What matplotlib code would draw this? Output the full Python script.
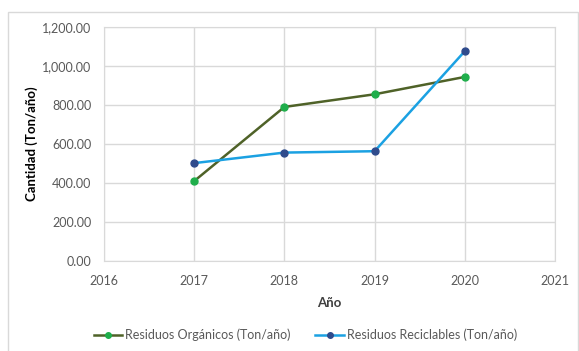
import matplotlib.pyplot as plt
from matplotlib.patches import Rectangle
from matplotlib.ticker import FuncFormatter

years = [2017, 2018, 2019, 2020]
organicos = [410, 790, 855, 944]
reciclables = [502, 556, 563, 1076]

plt.rcParams['font.family'] = ['Lato', 'DejaVu Sans']

fig = plt.figure(figsize=(5.79, 3.51), dpi=100)
fig.patches.append(Rectangle((8 / 579, -0.01), 570 / 579, 1 - 12 / 351 + 0.01,
                             transform=fig.transFigure, fill=False,
                             edgecolor='#d9d9d9', linewidth=1))
ax = fig.add_axes([104 / 579, 1 - 261 / 351, 451 / 579, 234 / 351])

ax.plot(years, organicos, color='#4f6228', linewidth=1.8, marker='o',
        markersize=5, markerfacecolor='#1fae4b', markeredgecolor='#1fae4b',
        label='Residuos Orgánicos (Ton/año)')
ax.plot(years, reciclables, color='#1ba1e2', linewidth=1.8, marker='o',
        markersize=5, markerfacecolor='#2f4b8c', markeredgecolor='#2f4b8c',
        label='Residuos Reciclables (Ton/año)')

ax.set_xlim(2016, 2021)
ax.set_ylim(0, 1200)
ax.set_xticks(range(2016, 2022))
ax.set_yticks(range(0, 1201, 200))
ax.yaxis.set_major_formatter(FuncFormatter(lambda v, p: f'{v:,.2f}'))
ax.grid(True, color='#d9d9d9', linewidth=1)
ax.set_axisbelow(True)
for s in ax.spines.values():
    s.set_color('#d9d9d9')
ax.tick_params(length=0, labelsize=9, colors='#595959')
ax.tick_params(axis='x', pad=10)
ax.tick_params(axis='y', pad=9)

ax.set_xlabel('Año', fontsize=9.5, fontweight='bold', color='#404040', labelpad=7)
ax.set_ylabel('Cantidad (Ton/año)', fontsize=9.5, fontweight='bold', color='#000000', labelpad=3)

fig.legend(loc='center', bbox_to_anchor=(0.527, 1 - 335 / 351), ncol=2, frameon=False,
           fontsize=9, labelcolor='#595959', handlelength=2.3, handletextpad=0.2,
           columnspacing=2.0, markerscale=0.8)

fig.savefig('out.png', dpi=100)
